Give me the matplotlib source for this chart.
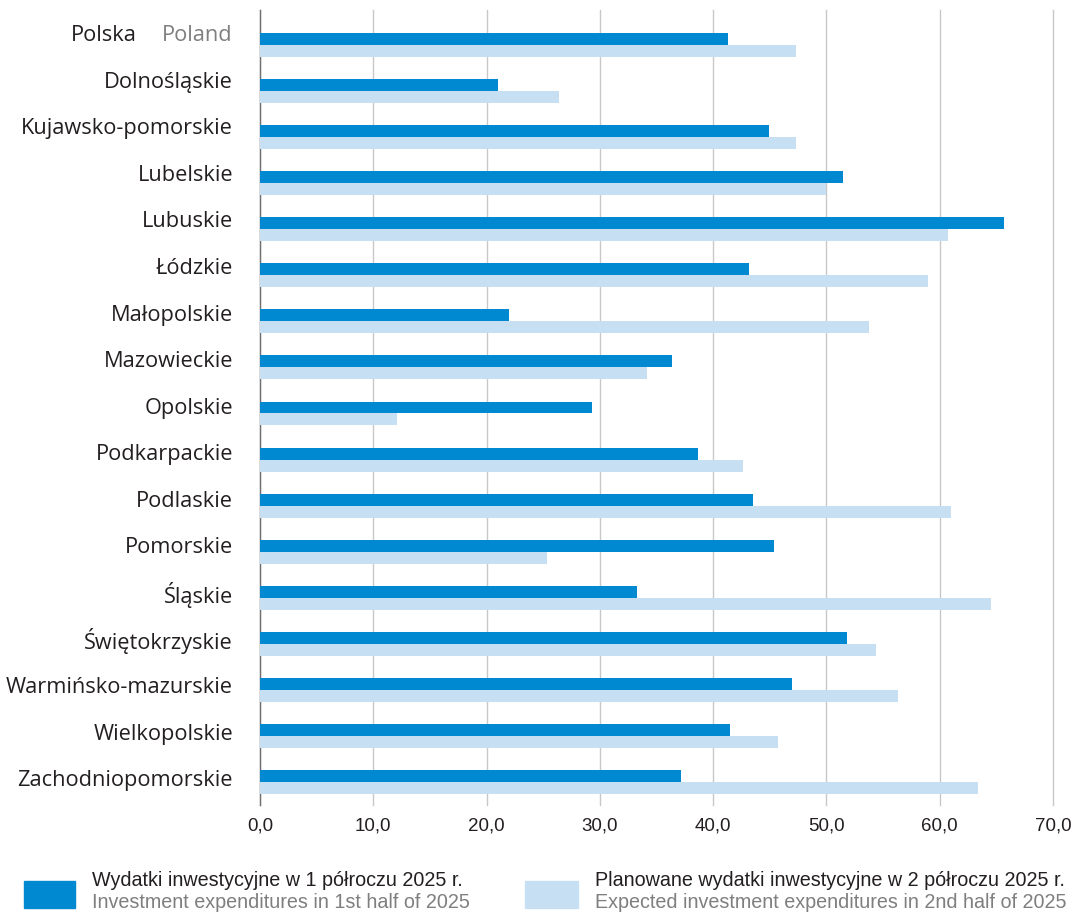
import numpy as np
import matplotlib
matplotlib.use("Agg")
import matplotlib.pyplot as plt
from matplotlib.patches import Rectangle
from matplotlib.transforms import blended_transform_factory

regions = ["Polska", "Dolnośląskie", "Kujawsko-pomorskie", "Lubelskie", "Lubuskie",
           "Łódzkie", "Małopolskie", "Mazowieckie", "Opolskie", "Podkarpackie",
           "Podlaskie", "Pomorskie", "Śląskie", "Świętokrzyskie",
           "Warmińsko-mazurskie", "Wielkopolskie", "Zachodniopomorskie"]
first_half = [41.3, 21.0, 44.9, 51.5, 65.7, 43.2, 22.0, 36.4, 29.3, 38.7,
              43.5, 45.4, 33.3, 51.8, 47.0, 41.5, 37.2]
second_half = [47.3, 26.4, 47.3, 50.0, 60.7, 59.0, 53.8, 34.2, 12.1, 42.6,
               61.0, 25.3, 64.5, 54.4, 56.3, 45.7, 63.4]
xticks = [0, 10, 20, 30, 40, 50, 60, 70]
xtick_labels = ["0,0", "10,0", "20,0", "30,0", "40,0", "50,0", "60,0", "70,0"]

dark = "#0088d1"
light = "#c6dff2"
txt = "#231f20"
grey = "#7f7f7f"
label_font = ["Open Sans", "DejaVu Sans"]
narrow_font = ["Liberation Sans", "DejaVu Sans"]

W, H = 1074, 914
fig = plt.figure(figsize=(W / 100, H / 100), dpi=100)
ax = fig.add_axes([260 / W, 1 - 805 / H, 793 / W, 795 / H])

y = np.arange(len(regions))
h = 0.26
ax.barh(y - h / 2, first_half, height=h, color=dark, zorder=3)
ax.barh(y + h / 2, second_half, height=h, color=light, zorder=3)

ax.set_xlim(0, 70)
ax.set_ylim(16.5, -0.76)
ax.set_xticks(xticks)
ax.set_xticklabels(xtick_labels, fontfamily=narrow_font, fontsize=13.5, color=txt)
ax.set_yticks(y)
ax.set_yticklabels([])
ax.tick_params(axis="y", length=0)
ax.tick_params(axis="x", length=0, pad=9)
ax.grid(axis="x", color="#c8c8c8", linewidth=1.0, zorder=0)
for gl in ax.get_xgridlines():
    gl.set_clip_on(False)
for s in ["top", "right", "bottom"]:
    ax.spines[s].set_visible(False)
ax.spines["left"].set_color("#707070")
ax.spines["left"].set_linewidth(1.0)

# region labels sit a little above the bar pairs, drifting towards centre at the bottom
tr = blended_transform_factory(fig.transFigure, ax.transData)
step_bar = 46.07
fs_lab = 15.7
for i, name in enumerate(regions):
    ly = (35.5 + i * 46.6 - 45) / step_bar
    if i == 0:
        ax.text(233 / W, ly, "Poland", transform=tr, ha="right", va="center",
                fontfamily=label_font, fontsize=fs_lab, color=grey)
        ax.text(137 / W, ly, "Polska", transform=tr, ha="right", va="center",
                fontfamily=label_font, fontsize=fs_lab, color=txt)
    else:
        ax.text(233 / W, ly, name, transform=tr, ha="right", va="center",
                fontfamily=label_font, fontsize=fs_lab, color=txt)

# legend
fig.patches.append(Rectangle((24 / W, 1 - 908 / H), 51 / W, 27 / H,
                             transform=fig.transFigure, color=dark))
fig.patches.append(Rectangle((525 / W, 1 - 908 / H), 53 / W, 27 / H,
                             transform=fig.transFigure, color=light))
leg = [
    (92, 880, "Wydatki inwestycyjne w 1 półroczu 2025 r.", txt),
    (92, 903, "Investment expenditures in 1st half of 2025", grey),
    (595, 880, "Planowane wydatki inwestycyjne w 2 półroczu 2025 r.", txt),
    (595, 903, "Expected investment expenditures in 2nd half of 2025", grey),
]
for x, yy, s, c in leg:
    fig.text(x / W, 1 - yy / H, s, fontfamily=narrow_font, fontsize=14.2,
             color=c, va="center")

fig.savefig("out.png", dpi=100)
